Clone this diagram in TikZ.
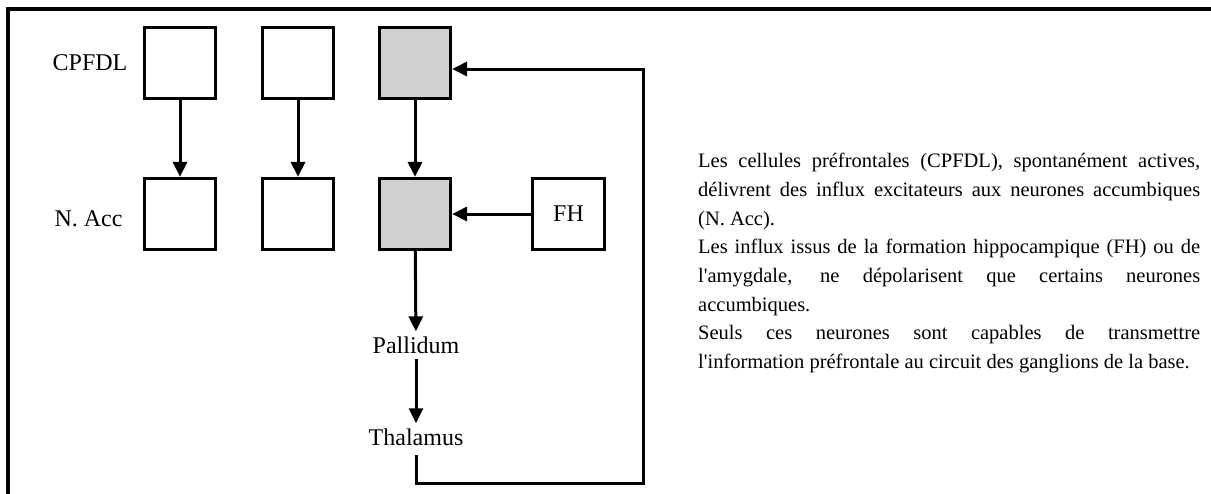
\documentclass[tikz,border=0pt]{standalone}
\usepackage{fontspec}
\setmainfont{Liberation Serif}[Ligatures=TeXOff]
\usepackage{tikz}
\usetikzlibrary{arrows.meta, positioning, calc}

\definecolor{cellgray}{RGB}{208,208,208}

\begin{document}
\begin{tikzpicture}[x=1pt, y=1pt,
        cell/.style={rectangle, draw, line width=2.7pt, minimum size=71.5pt, inner sep=0pt, font=\fontsize{24}{28}\selectfont},
        active/.style={cell, fill=cellgray},
        tag/.style={inner sep=5pt, font=\fontsize{24}{28}\selectfont},
        link/.style={line width=3pt, -{Triangle[length=15pt, width=14pt]}},
        frame/.style={line width=3.2pt}
    ]
        \useasboundingbox (0,0) rectangle (1211,-493);
        % Frame
        \draw[frame] (8,-495) -- (8,-9) -- (1213,-9);

        % Cells
        \node[cell] (cpf1) at (180,-63) {};
        \node[cell] (cpf2) at (298,-63) {};
        \node[active] (cpf3) at (415,-63) {};
        \node[cell] (acc1) at (180,-214) {};
        \node[cell] (acc2) at (298,-214) {};
        \node[active] (acc3) at (415,-214) {};
        \node[cell] (fh) at (568.5,-214) {FH};

        % Labels
        \node[tag] (cpfdl) at (90,-63) {CPFDL};
        \node[tag] (nacc) at (88.5,-219) {N. Acc};
        \node[tag] (pall) at (416,-345) {Pallidum};
        \node[tag] (thal) at (416,-437) {Thalamus};
        \coordinate (loop) at (643,-483);

        % Arrows
        \draw[link] (cpf1) -- (acc1);
        \draw[link] (cpf2) -- (acc2);
        \draw[link] (cpf3) -- (acc3);
        \draw[link] (fh) -- (acc3);
        \draw[link] (acc3) -- (pall);
        \draw[link] (pall) -- (thal);
        \draw[link, shorten <=4pt] (thal.south) |- (loop) |- ([yshift=-6pt]cpf3.east);

        % Text
        \node[anchor=north west, inner sep=0pt, text width=502pt, align=justify,
              font=\fontsize{20.5}{28.7}\selectfont] (notes) at (698,-153) {%
            Les cellules préfrontales (CPFDL), spontanément actives,\linebreak
            délivrent des influx excitateurs aux neurones accumbiques\linebreak
            (N. Acc).\par
            Les influx issus de la formation hippocampique (FH) ou de\linebreak
            l'amygdale, ne dépolarisent que certains neurones\linebreak
            accumbiques.\par
            Seuls ces neurones sont capables de transmettre\linebreak
            \mbox{l'information préfrontale au circuit des ganglions de la base.}};
\end{tikzpicture}
\end{document}
